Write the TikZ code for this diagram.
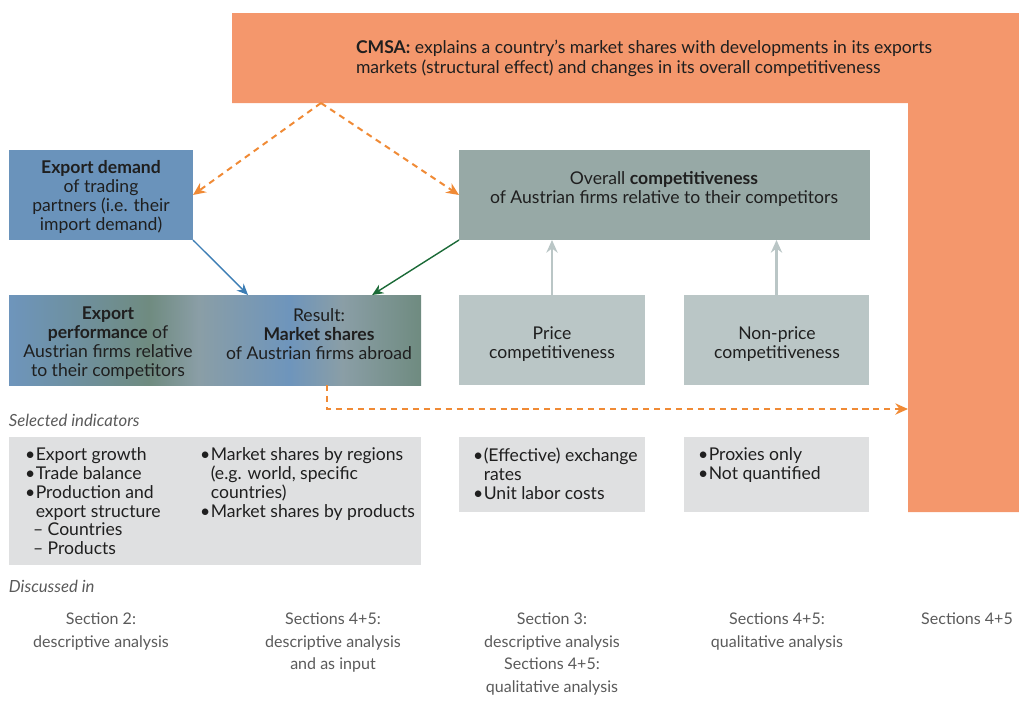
\documentclass[tikz,border=0pt]{standalone}
\usepackage{fontspec}
\setmainfont{Lato}
\usetikzlibrary{arrows.meta}

\definecolor{cmsaorange}{HTML}{F4976C}
\definecolor{dashorange}{HTML}{F08A35}
\definecolor{demandblue}{HTML}{6A93BB}
\definecolor{overallgrey}{HTML}{97A9A6}
\definecolor{paleteal}{HTML}{BAC6C6}
\definecolor{indgrey}{HTML}{DFE0E1}
\definecolor{arrowblue}{HTML}{3C7DB4}
\definecolor{arrowgreen}{HTML}{1B6A37}
\definecolor{labelgrey}{HTML}{5A5A5A}
\definecolor{perfblue}{HTML}{6E95BC}
\definecolor{perfgreen}{HTML}{6F8B80}
\definecolor{perfmid}{HTML}{8A9EA6}

% blue -> green -> blue -> green across the performance box
\pgfdeclarehorizontalshading{perfshade}{100bp}{%
	color(0bp)=(perfblue); color(25bp)=(perfblue); color(42bp)=(perfgreen);
	color(48bp)=(perfmid); color(59bp)=(perfblue); color(65.5bp)=(perfmid);
	color(75bp)=(perfgreen); color(100bp)=(perfgreen)}

\newcommand{\itm}{\makebox[0.27cm][l]{\textbullet}}
\newcommand{\hng}{\hspace*{0.27cm}}

\begin{document}
\begin{tikzpicture}[x=0.025cm, y=-0.025cm,
	every node/.style={inner sep=0pt, outer sep=0pt},
	boxsize/.style 2 args={minimum width=#1*0.025cm, minimum height=#2*0.025cm, anchor=north west},
	body/.style={font=\fontsize{12.5}{13.6}\selectfont, text=black!88, align=center},
	listtext/.style={font=\fontsize{12.5}{13.3}\selectfont, text=black!88, align=left, anchor=north west},
	caption/.style={font=\fontsize{11.9}{13}\selectfont\itshape, text=labelgrey, anchor=west},
	seclabel/.style={font=\fontsize{11.4}{16}\selectfont, text=labelgrey, align=center, anchor=north},
	dasharrow/.style={dashorange, line width=1.4pt, dash pattern=on 4.3pt off 3.5pt,
		-{Stealth[length=9pt, width=8pt]}},
	bluearrow/.style={arrowblue, line width=1pt, -{Stealth[length=8pt, width=7pt]}},
	greenarrow/.style={arrowgreen, line width=1pt, -{Stealth[length=8pt, width=7pt]}},
	greyarrow/.style={paleteal, line width=1.6pt, -{Stealth[length=9pt, width=8pt]}}]
	\useasboundingbox (0,0) rectangle (1019,700);

	% CMSA band, top and right side
	\fill[cmsaorange] (232,13) -- (1019,13) -- (1019,512) -- (908,512) -- (908,103) -- (232,103) -- cycle;
	\node[body, align=left, anchor=north west, font=\fontsize{12.5}{14.2}\selectfont] (cmsa) at (356,40)
		{\textbf{CMSA:} explains a country’s market shares with developments in its exports\\
		 markets (structural effect) and changes in its overall competitiveness};
	\coordinate (cmsafoot) at (321,103);
	\coordinate (cmsaside) at (908,409);

	% upper row
	\node[boxsize={184}{90}, fill=demandblue] (demand) at (9,150) {};
	\node[body] (demandtext) at (101,197)
		{\textbf{Export demand}\\of trading\\partners (i.e. their\\import demand)};
	\node[boxsize={411}{90}, fill=overallgrey] (overall) at (459,150) {};
	\node[body] (overalltext) at (664,189)
		{Overall \textbf{competitiveness}\\of Austrian firms relative to their competitors};

	% middle row
	\node[boxsize={412}{90}, shading=perfshade] (perf) at (9,295) {};
	\node[body] (perftext) at (108,343)
		{\textbf{Export}\\\textbf{performance} of\\Austrian firms relative\\to their competitors};
	\node[body] (result) at (319,334)
		{Result:\\\textbf{Market shares}\\of Austrian firms abroad};
	\node[boxsize={186}{90}, fill=paleteal] (price) at (459,295) {};
	\node[body] (pricetext) at (552,344) {Price\\competitiveness};
	\node[boxsize={185}{90}, fill=paleteal] (nonprice) at (684,295) {};
	\node[body] (nonpricetext) at (777,344) {Non-price\\competitiveness};

	% connectors
	\draw[dasharrow] (cmsafoot) -- (demand.east);
	\draw[dasharrow] (cmsafoot) -- (overall.west);
	\draw[bluearrow] (demand.south east) -- ([xshift=5.975cm]perf.north west);
	\draw[greenarrow] (overall.south west) -- ([xshift=9.075cm]perf.north west);
	\draw[greyarrow] (price.north) -- (price.north |- overall.south);
	\draw[greyarrow] (nonprice.north) -- (nonprice.north |- overall.south);
	\draw[dasharrow] ([xshift=7.95cm]perf.south west) |- (cmsaside);

	% indicators
	\node[caption] (selected) at (9,420) {Selected indicators};
	\node[boxsize={412}{128}, fill=indgrey] (indperf) at (9,437) {};
	\node[boxsize={186}{75}, fill=indgrey] (indprice) at (459,437) {};
	\node[boxsize={185}{75}, fill=indgrey] (indnonprice) at (684,437) {};
	\node[listtext] (listperf) at (25,448)
		{\itm Export growth\\\itm Trade balance\\\itm Production and\\\hng export structure\\
		 \hspace*{0.2cm}– Countries\\\hspace*{0.2cm}– Products};
	\node[listtext] (listshares) at (200,448)
		{\itm Market shares by regions\\\hng (e.g. world, specific\\\hng countries)\\\itm Market shares by products};
	\node[listtext] (listprice) at (473,448)
		{\itm (Effective) exchange\\\hng rates\\\itm Unit labor costs};
	\node[listtext] (listnonprice) at (698,448)
		{\itm Proxies only\\\itm Not quantified};

	% where it is discussed
	\node[caption] (discussed) at (9,586) {Discussed in};
	\foreach \x/\t [count=\i] in {101/{Section 2:\\descriptive analysis},
			333/{Sections 4+5:\\descriptive analysis\\and as input},
			552/{Section 3:\\descriptive analysis\\Sections 4+5:\\qualitative analysis},
			777/{Sections 4+5:\\qualitative analysis},
			967/{Sections 4+5}}
		\node[seclabel] (sec\i) at (\x,613) {\t};
\end{tikzpicture}
\end{document}
